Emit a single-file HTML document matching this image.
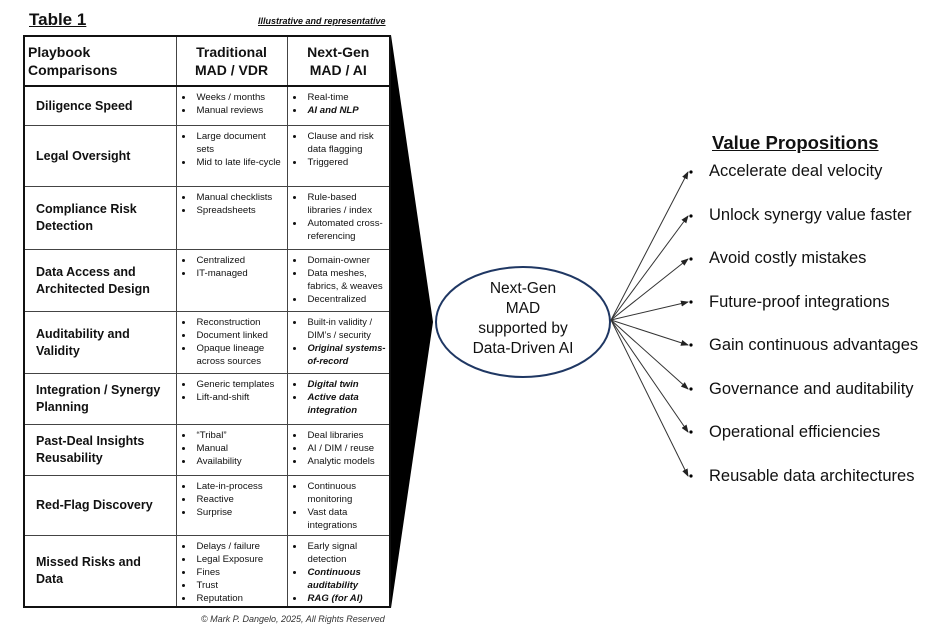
<!DOCTYPE html>
<html><head><meta charset="utf-8"><style>
body{margin:0;width:942px;height:632px;background:#fff;position:relative;overflow:hidden;font-family:"Liberation Sans",sans-serif;color:#111}
.abs{position:absolute}
table{position:absolute;left:23px;top:35px;border-collapse:collapse;table-layout:fixed;border:2px solid #111}
td{border:1px solid #444;vertical-align:top;padding:0;overflow:hidden}
td.l{font-weight:bold;font-size:12.5px;vertical-align:middle;padding-left:11px;line-height:17px}
td.h{font-weight:bold;font-size:14px;text-align:center;vertical-align:middle;line-height:18px}
.c{overflow:hidden}
ul{margin:0;padding:4px 1px 0 17px;font-size:9.6px;line-height:13px}
li{padding-left:3px}
.vp{position:absolute;left:709px;font-size:16.5px}
</style></head><body>
<div class="abs" style="left:29px;top:10px;font-size:17px;font-weight:bold;text-decoration:underline">Table 1</div>
<div class="abs" style="left:258px;top:16px;font-size:9px;font-weight:bold;font-style:italic;text-decoration:underline">Illustrative and representative</div>
<table>
<colgroup><col style="width:152px"><col style="width:111px"><col style="width:103px"></colgroup>
<tr><td class="h" style="text-align:left;padding-left:3px;border-bottom:2px solid #111"><div class="c" style="height:48px;display:flex;align-items:center">Playbook<br>Comparisons</div></td><td class="h" style="border-bottom:2px solid #111">Traditional<br>MAD / VDR</td><td class="h" style="border-bottom:2px solid #111">Next-Gen<br>MAD / AI</td></tr>
<tr><td class="l">Diligence Speed</td><td><div class="c" style="height:38px"><ul><li>Weeks / months</li><li>Manual reviews</li></ul></div></td><td><ul><li>Real-time</li><li><b><i>AI and NLP</i></b></li></ul></td></tr>
<tr><td class="l">Legal Oversight</td><td><div class="c" style="height:60px"><ul><li>Large document sets</li><li>Mid to late life-cycle</li></ul></div></td><td><ul><li>Clause and risk data flagging</li><li>Triggered</li></ul></td></tr>
<tr><td class="l">Compliance Risk<br>Detection</td><td><div class="c" style="height:62px"><ul><li>Manual checklists</li><li>Spreadsheets</li></ul></div></td><td><ul><li>Rule-based libraries / index</li><li>Automated cross-referencing</li></ul></td></tr>
<tr><td class="l">Data Access and<br>Architected Design</td><td><div class="c" style="height:61px"><ul><li>Centralized</li><li>IT-managed</li></ul></div></td><td><div class="c" style="height:61px"><ul><li>Domain-owner</li><li>Data meshes, fabrics, &amp; weaves</li><li>Decentralized</li></ul></div></td></tr>
<tr><td class="l">Auditability and<br>Validity</td><td><div class="c" style="height:61px"><ul><li>Reconstruction</li><li>Document linked</li><li>Opaque lineage across sources</li></ul></div></td><td><div class="c" style="height:61px"><ul style="font-size:9.3px"><li>Built-in validity / DIM’s / security</li><li><b><i>Original systems-of-record</i></b></li></ul></div></td></tr>
<tr><td class="l">Integration / Synergy<br>Planning</td><td><div class="c" style="height:50px"><ul><li>Generic templates</li><li>Lift-and-shift</li></ul></div></td><td><div class="c" style="height:50px"><ul><li><b><i>Digital twin</i></b></li><li><b><i>Active data integration</i></b></li></ul></div></td></tr>
<tr><td class="l">Past-Deal Insights<br>Reusability</td><td><div class="c" style="height:50px"><ul><li>“Tribal”</li><li>Manual</li><li>Availability</li></ul></div></td><td><div class="c" style="height:50px"><ul><li>Deal libraries</li><li>AI / DIM / reuse</li><li>Analytic models</li></ul></div></td></tr>
<tr><td class="l">Red-Flag Discovery</td><td><div class="c" style="height:59px"><ul><li>Late-in-process</li><li>Reactive</li><li>Surprise</li></ul></div></td><td><div class="c" style="height:59px"><ul><li>Continuous monitoring</li><li>Vast data integrations</li></ul></div></td></tr>
<tr><td class="l">Missed Risks and<br>Data</td><td><div class="c" style="height:70px"><ul><li>Delays / failure</li><li>Legal Exposure</li><li>Fines</li><li>Trust</li><li>Reputation</li></ul></div></td><td><div class="c" style="height:70px"><ul><li>Early signal detection</li><li><b><i>Continuous auditability</i></b></li><li><b><i>RAG (for AI)</i></b></li></ul></div></td></tr>
</table>
<div class="abs" style="left:201px;top:614px;font-size:9px;font-style:italic;color:#333">© Mark P. Dangelo, 2025, All Rights Reserved</div>
<svg class="abs" style="left:0;top:0" width="942" height="632">
<defs><marker id="a" markerWidth="8" markerHeight="6" refX="7" refY="3" orient="auto"><path d="M0,0 L8,3 L0,6z" fill="#222"/></marker></defs>
<polygon points="391,35 433,322 391,608" fill="#000"/>
<ellipse cx="523" cy="322" rx="87" ry="55" fill="#fff" stroke="#1f3763" stroke-width="2"/>
<g stroke="#333" stroke-width="1" marker-end="url(#a)">
<line x1="611" y1="320" x2="688" y2="172"/>
<line x1="611" y1="320" x2="688" y2="216"/>
<line x1="611" y1="320" x2="688" y2="259"/>
<line x1="611" y1="320" x2="688" y2="302"/>
<line x1="611" y1="320" x2="688" y2="345"/>
<line x1="611" y1="320" x2="688" y2="389"/>
<line x1="611" y1="320" x2="688" y2="432"/>
<line x1="611" y1="320" x2="688" y2="476"/>
</g>
<g fill="#000"><circle cx="691" cy="172" r="1.6"/><circle cx="691" cy="216" r="1.6"/><circle cx="691" cy="259" r="1.6"/><circle cx="691" cy="302" r="1.6"/><circle cx="691" cy="345" r="1.6"/><circle cx="691" cy="389" r="1.6"/><circle cx="691" cy="432" r="1.6"/><circle cx="691" cy="476" r="1.6"/></g>
</svg>
<div class="abs" style="left:436px;top:279px;width:174px;text-align:center;font-size:15.5px;line-height:20px">Next-Gen<br>MAD<br>supported by<br>Data-Driven AI</div>
<div class="abs" style="left:712px;top:132px;font-size:18.5px;font-weight:bold;text-decoration:underline">Value Propositions</div>
<div class="vp" style="top:162px">Accelerate deal velocity</div>
<div class="vp" style="top:206px">Unlock synergy value faster</div>
<div class="vp" style="top:249px">Avoid costly mistakes</div>
<div class="vp" style="top:293px">Future-proof integrations</div>
<div class="vp" style="top:336px">Gain continuous advantages</div>
<div class="vp" style="top:380px">Governance and auditability</div>
<div class="vp" style="top:423px">Operational efficiencies</div>
<div class="vp" style="top:467px">Reusable data architectures</div>
</body></html>
